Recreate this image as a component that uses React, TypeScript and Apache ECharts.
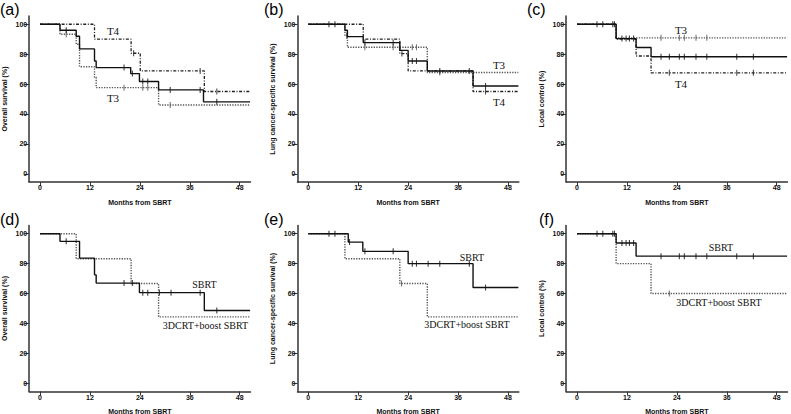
import React, { useEffect, useRef } from "react";
import * as echarts from "echarts";

// ---------- tick labels ----------
const xTicks = [0, 12, 24, 36, 48];
const yTicks = [0, 20, 40, 60, 80, 100];
const xName = "Months from SBRT";
const yNames = [
  "Overall survival (%)",
  "Lung cancer-specific survival (%)",
  "Local control (%)",
  "Overall survival (%)",
  "Lung cancer-specific survival (%)",
  "Local control (%)",
];
const panelLetters = ["(a)", "(b)", "(c)", "(d)", "(e)", "(f)"];

// ---------- panel (a): overall survival by T stage ----------
const aAll = [[0, 100], [4.8, 96], [8.7, 92], [9.5, 83.5], [13.1, 75.4], [13.5, 71], [21.8, 67], [23.9, 61.7], [28.5, 56.1], [39.3, 48.1], [50.5, 48.1]];
const aAllCens = [[6.3, 96], [20.2, 71], [22.2, 67], [24.7, 61.7], [25.9, 61.7], [31.3, 56.1], [38.5, 56.1], [42.5, 48.1]];
const aT4 = [[0, 100], [13.1, 90], [21.9, 80.6], [24.1, 68.75], [39.5, 55], [50.5, 55]];
const aT4Cens = [[22.5, 80.6], [38.5, 68.75], [42.5, 55]];
const aT3 = [[0, 100], [4.8, 93.3], [8.7, 86.6], [9.5, 71.6], [13.1, 64.5], [13.5, 57.6], [28.5, 46], [50.5, 46]];
const aT3Cens = [[6.3, 93.3], [20.2, 57.6], [24.7, 57.6], [25.9, 57.6], [31.3, 46]];

// ---------- panel (b): lung cancer-specific survival by T stage ----------
const bAll = [[0, 100], [8.8, 96], [9.4, 91.7], [13.2, 87.7], [22, 82.5], [24, 75.4], [28.6, 68.75], [39.6, 58.7], [50.5, 58.7]];
const bAllCens = [[4.96, 100], [6.4, 100], [13.6, 87.7], [20.4, 87.7], [25, 75.4], [26, 75.4], [31.6, 68.75], [38.7, 68.75], [42.6, 58.7]];
const bT4 = [[0, 100], [13.2, 90], [22, 80.4], [24, 68.75], [39.6, 55], [50.5, 55]];
const bT4Cens = [[22.5, 80.4], [42.6, 55]];
const bT3 = [[0, 100], [8.8, 92.3], [9.4, 84.6], [28.6, 67.7], [50.5, 67.7]];
const bT3Cens = [[9.2, 92.3], [13.6, 84.6], [20.4, 84.6], [25, 84.6], [26, 84.6], [31.6, 67.7]];

// ---------- panel (c): local control by T stage ----------
const cAll = [[0, 100], [9.4, 90.4], [14.2, 84.4], [17.8, 78.3], [50.5, 78.3]];
const cAllCens = [[4.8, 100], [6.2, 100], [8.6, 100], [9.0, 100], [10.8, 90.4], [11.8, 90.4], [12.6, 90.4], [13.6, 90.4], [20.2, 78.3], [22.2, 78.3], [24.6, 78.3], [25.8, 78.3], [28.6, 78.3], [31.2, 78.3], [38.4, 78.3], [42.4, 78.3]];
const cT3 = [[0, 100], [9.4, 90.9], [50.5, 90.9]];
const cT3Cens = [[20.2, 90.9], [24.6, 90.9], [25.8, 90.9], [28.6, 90.9], [31.2, 90.9]];
const cT4 = [[0, 100], [9.4, 90], [14.2, 78.75], [17.8, 67.5], [50.5, 67.5]];
const cT4Cens = [[22.2, 67.5], [38.4, 67.5], [42.4, 67.5]];

// ---------- panel (d): overall survival by treatment ----------
const dSbrt = [[0, 100], [4.8, 94.9], [9.5, 83.7], [13.1, 72.5], [13.5, 67], [23.9, 60.6], [39.5, 48.7], [50.5, 48.7]];
const dSbrtCens = [[6.3, 94.9], [20.2, 67], [22.2, 67], [24.7, 60.6], [25.9, 60.6], [28.7, 60.6], [31.5, 60.6], [38.5, 60.6], [42.5, 48.7]];
const dBoost = [[0, 100], [8.7, 83.3], [21.9, 66.7], [28.5, 44.4], [50.5, 44.4]];
const dBoostCens: number[][] = [];

// ---------- panel (e): lung cancer-specific survival by treatment ----------
const eSbrt = [[0, 100], [9.6, 94.4], [13.1, 88.2], [24, 80], [39.6, 64], [50.5, 64]];
const eSbrtCens = [[4.96, 100], [6.4, 100], [9.9, 94.4], [13.6, 88.2], [20.4, 88.2], [25, 80], [26, 80], [28.8, 80], [31.6, 80], [38.7, 80], [42.6, 64]];
const eBoost = [[0, 100], [8.8, 83.3], [22, 66.7], [28.6, 44.4], [50.5, 44.4]];
const eBoostCens = [[22.4, 66.7]];

// ---------- panel (f): local control by treatment ----------
const fSbrt = [[0, 100], [9.4, 93.75], [14.2, 85], [50.5, 85]];
const fSbrtCens = [[4.8, 100], [6.2, 100], [8.6, 100], [9.0, 100], [10.8, 93.75], [11.8, 93.75], [12.6, 93.75], [13.6, 93.75], [20.2, 85], [24.6, 85], [25.8, 85], [28.6, 85], [31.2, 85], [38.4, 85], [42.4, 85]];
const fBoost = [[0, 100], [9.4, 80], [17.8, 60], [50.5, 60]];
const fBoostCens = [[22.2, 60]];

// ---------- curve labels ----------
const curveLabels: { text: string; x: number; y: number; size: number }[] = [
  { text: "T4", x: 113, y: 31, size: 11 },
  { text: "T3", x: 113, y: 98, size: 11 },
  { text: "T3", x: 499, y: 65, size: 11 },
  { text: "T4", x: 499, y: 102, size: 11 },
  { text: "T3", x: 681, y: 29.5, size: 11 },
  { text: "T4", x: 681, y: 84, size: 11 },
  { text: "SBRT", x: 204.5, y: 284, size: 10 },
  { text: "3DCRT+boost SBRT", x: 205.5, y: 325, size: 10 },
  { text: "SBRT", x: 472, y: 257, size: 10 },
  { text: "3DCRT+boost SBRT", x: 467, y: 324, size: 10 },
  { text: "SBRT", x: 721, y: 247, size: 10 },
  { text: "3DCRT+boost SBRT", x: 719, y: 302.5, size: 10 },
];

const STYLE_SOLID = { color: "#111", width: 1.4, type: "solid" as any };
const STYLE_DOT = { color: "#555", width: 1.4, type: [1.3, 1.3] as any };
const STYLE_DASHDOT = { color: "#222", width: 1.3, type: [3, 1.6, 1, 1.6] as any };

type Curve = { data: number[][]; cens: number[][]; style: any };
const panels: Curve[][] = [
  [
    { data: aT3, cens: aT3Cens, style: STYLE_DOT },
    { data: aT4, cens: aT4Cens, style: STYLE_DASHDOT },
    { data: aAll, cens: aAllCens, style: STYLE_SOLID },
  ],
  [
    { data: bT3, cens: bT3Cens, style: STYLE_DOT },
    { data: bT4, cens: bT4Cens, style: STYLE_DASHDOT },
    { data: bAll, cens: bAllCens, style: STYLE_SOLID },
  ],
  [
    { data: cT3, cens: cT3Cens, style: STYLE_DOT },
    { data: cT4, cens: cT4Cens, style: STYLE_DASHDOT },
    { data: cAll, cens: cAllCens, style: STYLE_SOLID },
  ],
  [
    { data: dBoost, cens: dBoostCens, style: STYLE_DOT },
    { data: dSbrt, cens: dSbrtCens, style: STYLE_SOLID },
  ],
  [
    { data: eBoost, cens: eBoostCens, style: STYLE_DOT },
    { data: eSbrt, cens: eSbrtCens, style: STYLE_SOLID },
  ],
  [
    { data: fBoost, cens: fBoostCens, style: STYLE_DOT },
    { data: fSbrt, cens: fSbrtCens, style: STYLE_SOLID },
  ],
];

const colLeft = [29.2, 297.5, 566.2];
const rowTop = [16, 225.5];
const GRID_W = 221.3;
const GRID_H = 166;
const letterPos = [
  [0, 9], [264, 9], [527, 9],
  [0, 219], [264, 219], [539, 219],
];

const AXIS_COLOR = "#333";
const TEXT_COLOR = "#111";
const SANS = "'Liberation Sans', Arial, sans-serif";
const SERIF = "'Liberation Serif', 'Times New Roman', serif";

function buildOption() {
  const grid: any[] = [];
  const xAxis: any[] = [];
  const yAxis: any[] = [];
  const series: any[] = [];
  for (let i = 0; i < 6; i++) {
    const col = i % 3;
    const row = Math.floor(i / 3);
    grid.push({
      left: colLeft[col],
      top: rowTop[row],
      width: GRID_W,
      height: GRID_H,
      containLabel: false,
      outerBoundsMode: "none",
    });
    xAxis.push({
      type: "value",
      gridIndex: i,
      min: -2.6,
      max: 50.6,
      name: xName,
      nameLocation: "middle",
      nameGap: 16.5,
      nameTextStyle: { fontSize: 7, fontWeight: "bold", color: TEXT_COLOR, fontFamily: SANS },
      axisLine: { show: true, onZero: false, lineStyle: { color: AXIS_COLOR, width: 1.5 } },
      axisTick: { show: true, length: 4, customValues: xTicks, lineStyle: { color: AXIS_COLOR, width: 1 } },
      axisLabel: { show: true, customValues: xTicks, fontSize: 7, fontWeight: "bold", color: TEXT_COLOR, margin: 2, fontFamily: SANS },
      splitLine: { show: false },
    });
    yAxis.push({
      type: "value",
      gridIndex: i,
      min: -5.5,
      max: 105.5,
      name: yNames[i],
      nameLocation: "middle",
      nameRotate: 90,
      nameGap: 21.5,
      nameTextStyle: { fontSize: 7, fontWeight: "bold", color: TEXT_COLOR, fontFamily: SANS },
      axisLine: { show: true, onZero: false, lineStyle: { color: AXIS_COLOR, width: 1.5 } },
      axisTick: { show: true, length: 5, customValues: yTicks, lineStyle: { color: AXIS_COLOR, width: 1 } },
      axisLabel: { show: true, customValues: yTicks, fontSize: 7, fontWeight: "bold", color: TEXT_COLOR, margin: 2, fontFamily: SANS },
      splitLine: { show: false },
    });
    panels[i].forEach((c) => {
      series.push({
        type: "line",
        xAxisIndex: i,
        yAxisIndex: i,
        data: c.data,
        step: "end",
        showSymbol: false,
        symbol: "none",
        lineStyle: c.style,
        silent: true,
      });
      if (c.cens.length) {
        series.push({
          type: "scatter",
          xAxisIndex: i,
          yAxisIndex: i,
          data: c.cens,
          symbol: "rect",
          symbolSize: [1.1, 6],
          itemStyle: { color: c.style.color },
          silent: true,
        });
      }
    });
  }
  const graphic: any[] = [];
  panelLetters.forEach((t, i) => {
    graphic.push({
      type: "text",
      x: letterPos[i][0],
      y: letterPos[i][1],
      style: { text: t, fontSize: 16, fontFamily: SANS, fill: "#000", align: "left", verticalAlign: "middle" },
    });
  });
  curveLabels.forEach((l) => {
    graphic.push({
      type: "text",
      x: l.x,
      y: l.y,
      style: { text: l.text, fontSize: l.size, fontFamily: SERIF, fill: "#111", align: "center", verticalAlign: "middle" },
    });
  });
  return {
    animation: false,
    backgroundColor: "#fff",
    grid,
    xAxis,
    yAxis,
    series,
    graphic,
  };
}

export default function App() {
  const ref = useRef<HTMLDivElement>(null);
  useEffect(() => {
    if (!ref.current) return;
    const chart = echarts.init(ref.current, undefined, { renderer: "svg" });
    chart.setOption(buildOption() as any);
    return () => chart.dispose();
  }, []);
  return (
    <div
      ref={ref}
      style={{ position: "absolute", left: 0, top: 0, width: 791, height: 414, background: "#fff" }}
    />
  );
}
